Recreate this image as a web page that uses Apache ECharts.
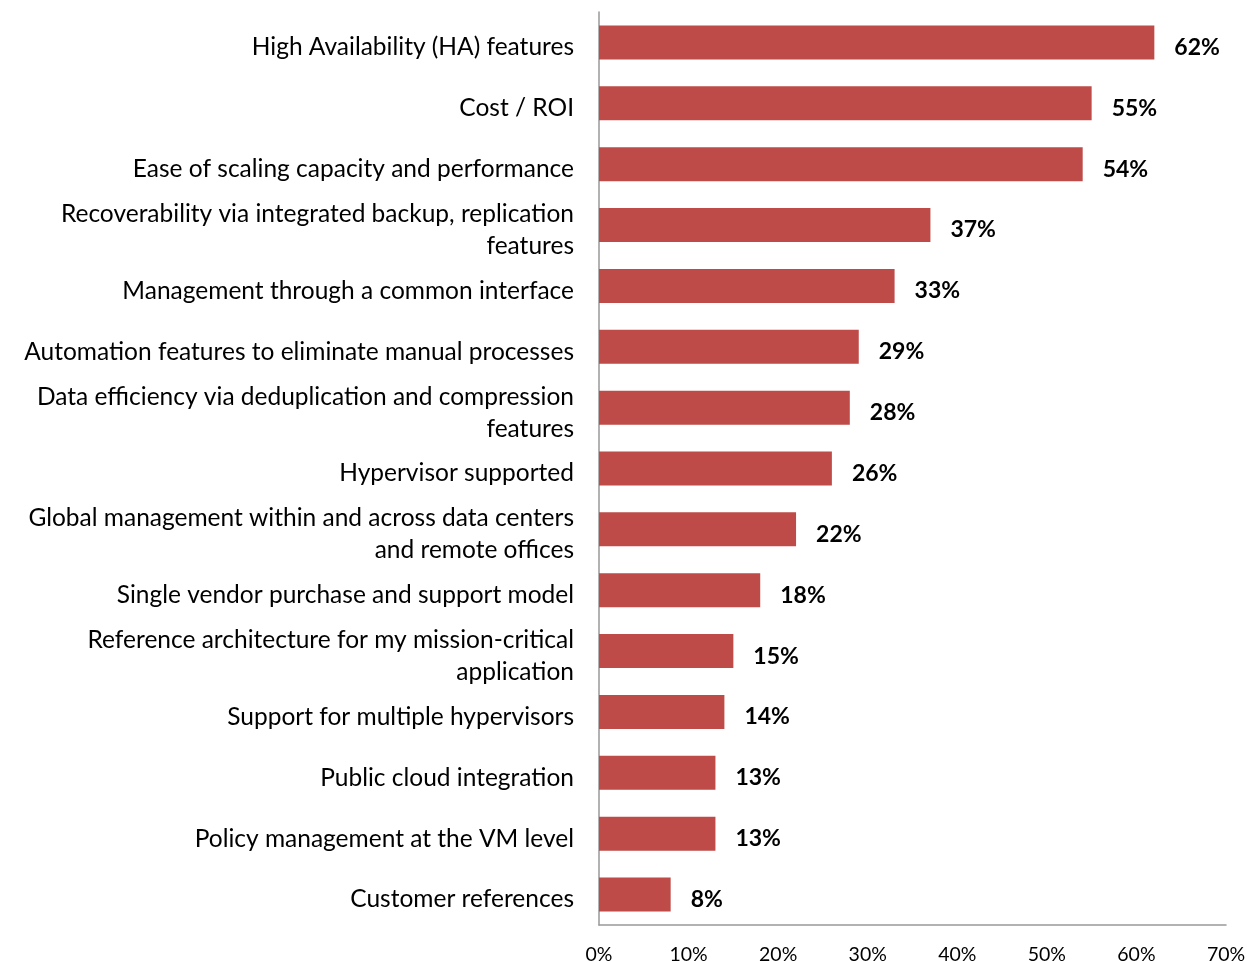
<!DOCTYPE html>
<html>
<head>
<meta charset="utf-8">
<script src="https://cdn.jsdelivr.net/npm/echarts@6/dist/echarts.min.js"></script>
<style>
  html, body { margin: 0; padding: 0; background: #fff; }
  #chart { width: 1247px; height: 961px; }
</style>
</head>
<body>
<div id="chart"></div>
<script>
// Survey factors, listed top to bottom
const categories = [
  "High Availability (HA) features",
  "Cost / ROI",
  "Ease of scaling capacity and performance",
  "Recoverability via integrated backup, replication\nfeatures",
  "Management through a common interface",
  "Automation features to eliminate manual processes",
  "Data efficiency via deduplication and compression\nfeatures",
  "Hypervisor supported",
  "Global management within and across data centers\nand remote offices",
  "Single vendor purchase and support model",
  "Reference architecture for my mission-critical\napplication",
  "Support for multiple hypervisors",
  "Public cloud integration",
  "Policy management at the VM level",
  "Customer references"
];
// Share of respondents, percent
const values = [62, 55, 54, 37, 33, 29, 28, 26, 22, 18, 15, 14, 13, 13, 8];
const xTicks = [0, 10, 20, 30, 40, 50, 60, 70];

const FONT = "Lato, 'Open Sans', sans-serif";
const chart = echarts.init(document.getElementById('chart'));
chart.setOption({
  animation: false,
  grid: {
    left: 599, right: 21, top: 12, bottom: 36,
    containLabel: false, outerBoundsMode: 'none'
  },
  xAxis: {
    type: 'value',
    min: xTicks[0],
    max: xTicks[xTicks.length - 1],
    interval: 10,
    axisLine: { show: true, lineStyle: { color: '#999', width: 1.5 } },
    axisTick: { show: false },
    splitLine: { show: false },
    axisLabel: { formatter: '{value}%', fontFamily: FONT, fontSize: 19.5, color: '#000', margin: 20 }
  },
  yAxis: {
    type: 'category',
    inverse: true,
    data: categories,
    axisLine: { show: true, lineStyle: { color: '#999', width: 1.5 } },
    axisTick: { show: false },
    axisLabel: {
      fontFamily: FONT, fontSize: 24.5, color: '#000', margin: 25,
      lineHeight: 32, align: 'right',
      // a thin spacer line above the text nudges each label slightly below the bar centre
      formatter: (v) => '{gap| }\n' + v,
      rich: { gap: { fontSize: 1, lineHeight: 10 } }
    }
  },
  series: [{
    type: 'bar',
    data: values,
    barWidth: 34,
    itemStyle: { color: '#BE4B48' },
    label: {
      show: true,
      position: 'right',
      distance: 20,
      offset: [0, 5],
      formatter: '{c}%',
      fontFamily: FONT,
      fontSize: 23,
      fontWeight: 'bold',
      color: '#000'
    }
  }]
});
</script>
</body>
</html>
